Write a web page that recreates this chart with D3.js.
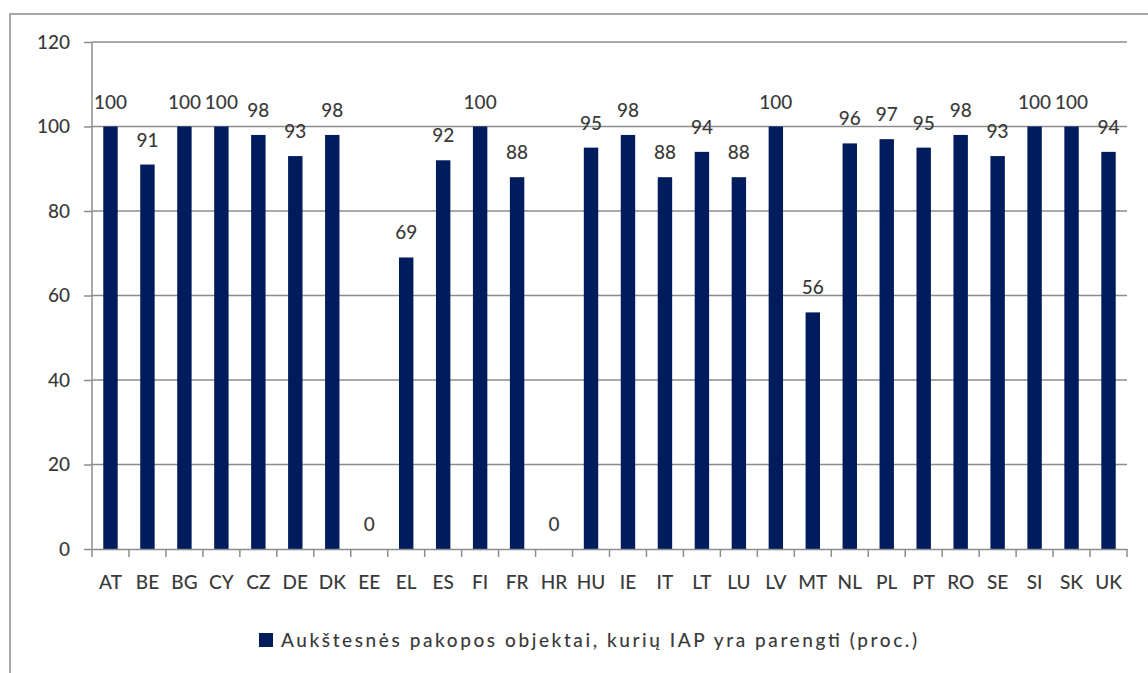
<!DOCTYPE html>
<html><head><meta charset="utf-8">
<script src="https://cdn.jsdelivr.net/npm/d3@7"></script>
<style>body{margin:0;background:#fff}svg{display:block}</style>
</head><body>
<script>
const categories = ["AT","BE","BG","CY","CZ","DE","DK","EE","EL","ES","FI","FR","HR","HU","IE","IT","LT","LU","LV","MT","NL","PL","PT","RO","SE","SI","SK","UK"];
const values = [100,91,100,100,98,93,98,0,69,92,100,88,0,95,98,88,94,88,100,56,96,97,95,98,93,100,100,94];
const yTicks = [0,20,40,60,80,100,120];
const seriesName = "Aukštesnės pakopos objektai, kurių IAP yra parengti (proc.)";

const W = 1148, H = 673;
const m = {left: 92, right: 1127, top: 42, bottom: 549};
const svg = d3.select("body").append("svg").attr("width", W).attr("height", H);
const font = "Lato, 'Open Sans', sans-serif";
const txt = "#3a3a3a", grid = "#8c8c8c", bar = "#001c5c";

// outer frame
svg.append("rect").attr("x",10).attr("y",14).attr("width",W+20).attr("height",H+20)
  .attr("fill","none").attr("stroke","#8a8a8a").attr("stroke-width",1.5);

const x = d3.scaleBand().domain(categories).range([m.left, m.right]).paddingInner(0.61).paddingOuter(0.305);
const xb = d3.scaleBand().domain(categories).range([m.left, m.right]);
const y = d3.scaleLinear().domain([0,120]).range([m.bottom, m.top]);

// gridlines
svg.append("g").selectAll("line").data(yTicks.filter(d=>d>0)).join("line")
  .attr("x1", m.left).attr("x2", m.right).attr("y1", d=>y(d)).attr("y2", d=>y(d))
  .attr("stroke", grid).attr("stroke-width", 1.5);

// y axis
const ya = svg.append("g").attr("transform",`translate(${m.left},0)`)
  .call(d3.axisLeft(y).tickValues(yTicks).tickSize(8).tickPadding(14));
ya.select(".domain").attr("stroke", grid).attr("stroke-width",1.5).attr("d",`M-0,${m.top}V${m.bottom}`);
ya.selectAll(".tick line").attr("stroke", grid).attr("stroke-width",1.5);
ya.selectAll(".tick text").attr("fill", txt).attr("font-family", font).attr("font-size", 19).attr("font-weight", 500);

// bars
svg.append("g").selectAll("rect").data(values).join("rect")
  .attr("x", (d,i)=>x(categories[i])).attr("width", x.bandwidth())
  .attr("y", d=>y(d)).attr("height", d=>y(0)-y(d)).attr("fill", bar);

// x axis
const xa = svg.append("g").attr("transform",`translate(0,${m.bottom})`)
  .call(d3.axisBottom(xb).tickSize(0).tickPadding(27));
xa.select(".domain").attr("stroke", grid).attr("stroke-width",1.5);
xa.selectAll(".tick text").attr("fill", txt).attr("font-family", font).attr("font-size", 19).attr("font-weight", 500);
// category boundary ticks
const bounds = categories.map(c=>xb(c)).concat([m.right]);
xa.append("g").selectAll("line").data(bounds).join("line")
  .attr("x1", d=>d).attr("x2", d=>d).attr("y1", 0).attr("y2", 8)
  .attr("stroke", grid).attr("stroke-width", 1.5);

// data labels
svg.append("g").selectAll("text").data(values).join("text")
  .attr("x", (d,i)=>xb(categories[i]) + xb.bandwidth()/2)
  .attr("y", d=>y(d) - 18)
  .attr("text-anchor","middle").attr("fill", txt).attr("font-family", font).attr("font-size", 19).attr("font-weight", 500)
  .text(d=>d);

// legend
const lg = svg.append("g");
lg.append("rect").attr("x",259).attr("y",633).attr("width",14).attr("height",14).attr("fill",bar);
lg.append("text").attr("x",281).attr("y",647).attr("fill",txt).attr("font-family",font).attr("font-size",19).attr("font-weight", 500)
  .attr("textLength",636).attr("lengthAdjust","spacing").text(seriesName);
</script>
</body></html>
